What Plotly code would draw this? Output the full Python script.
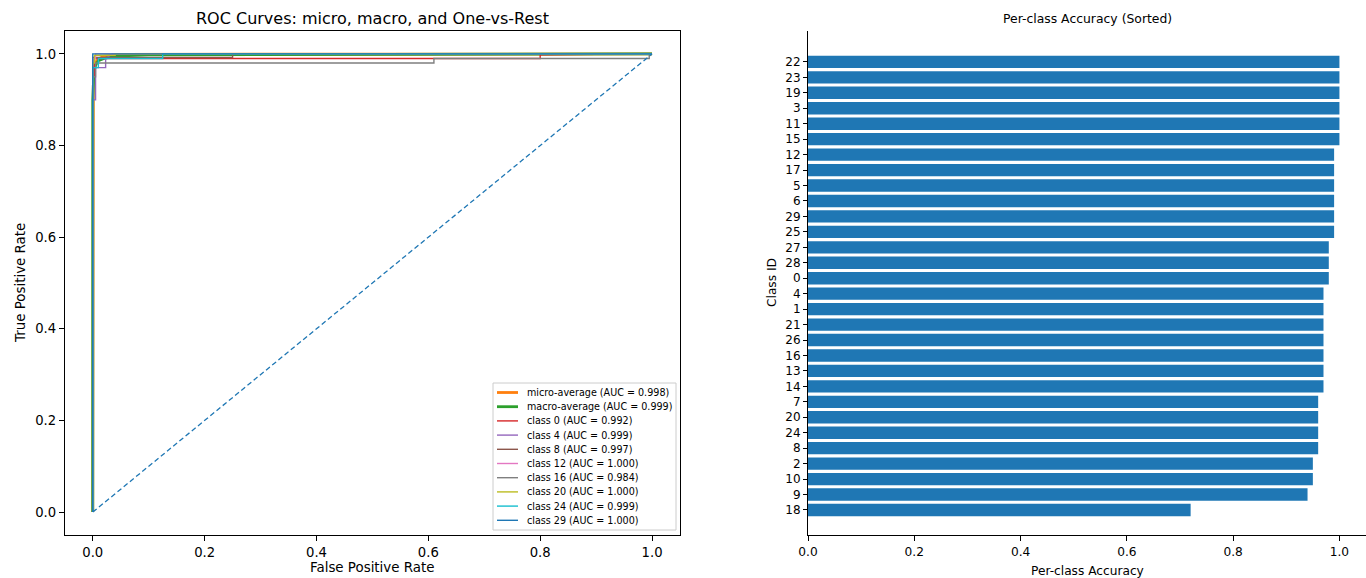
import plotly.graph_objects as go

# ---------------- ROC data ----------------
fpr_micro = [0, 0, 0.001, 0.002, 0.004, 0.007, 0.012, 0.02, 0.05, 1.0]
tpr_micro = [0, 0.77, 0.93, 0.96, 0.975, 0.985, 0.99, 0.995, 0.999, 1.0]

fpr_macro = [0, 0, 0.002, 0.005, 0.01, 0.02, 0.04, 0.1, 1.0]
tpr_macro = [0, 0.9, 0.96, 0.975, 0.985, 0.99, 0.995, 0.998, 1.0]

fpr_c0 = [0, 0, 0.003, 0.003, 0.8, 0.8, 1.0]
tpr_c0 = [0, 0.95, 0.95, 0.99, 0.99, 0.998, 1.0]

fpr_c4 = [0, 0, 0.005, 0.005, 0.023, 0.023, 0.035, 1.0]
tpr_c4 = [0, 0.9, 0.9, 0.97, 0.97, 0.99, 1.0, 1.0]

fpr_c8 = [0, 0, 0.25, 0.25, 1.0]
tpr_c8 = [0, 0.992, 0.992, 1.0, 1.0]

fpr_c12 = [0, 0, 0.005, 0.005, 1.0]
tpr_c12 = [0, 0.99, 0.99, 1.0, 1.0]

fpr_c16 = [0, 0, 0.005, 0.005, 0.61, 0.61, 0.995, 0.995, 1.0]
tpr_c16 = [0, 0.95, 0.95, 0.98, 0.98, 0.99, 0.99, 1.0, 1.0]

fpr_c20 = [0, 0, 0.003, 0.003, 0.04, 0.04, 1.0]
tpr_c20 = [0, 0.98, 0.98, 0.997, 0.997, 1.0, 1.0]

fpr_c24 = [0, 0, 0.01, 0.01, 0.125, 0.125, 1.0]
tpr_c24 = [0, 0.97, 0.97, 0.99, 0.99, 1.0, 1.0]

fpr_c29 = [0, 0, 1.0]
tpr_c29 = [0, 1.0, 1.0]

diag = [0, 1]

roc_names = ["micro-average (AUC = 0.998)", "macro-average (AUC = 0.999)",
             "class 0 (AUC = 0.992)", "class 4 (AUC = 0.999)", "class 8 (AUC = 0.997)",
             "class 12 (AUC = 1.000)", "class 16 (AUC = 0.984)", "class 20 (AUC = 1.000)",
             "class 24 (AUC = 0.999)", "class 29 (AUC = 1.000)"]
roc_fpr = [fpr_micro, fpr_macro, fpr_c0, fpr_c4, fpr_c8, fpr_c12, fpr_c16, fpr_c20, fpr_c24, fpr_c29]
roc_tpr = [tpr_micro, tpr_macro, tpr_c0, tpr_c4, tpr_c8, tpr_c12, tpr_c16, tpr_c20, tpr_c24, tpr_c29]
roc_colors = ["#ff7f0e", "#2ca02c", "#d62728", "#9467bd", "#8c564b",
              "#e377c2", "#7f7f7f", "#bcbd22", "#17becf", "#1f77b4"]
roc_widths = [2.8, 2.8] + [1.4] * 8

# ---------------- Accuracy data ----------------
class_ids = ["22", "23", "19", "3", "11", "15", "12", "17", "5", "6", "29", "25",
             "27", "28", "0", "4", "1", "21", "26", "16", "13", "14",
             "7", "20", "24", "8", "2", "10", "9", "18"]
accuracy = [1.0, 1.0, 1.0, 1.0, 1.0, 1.0, 0.99, 0.99, 0.99, 0.99, 0.99, 0.99,
            0.98, 0.98, 0.98, 0.97, 0.97, 0.97, 0.97, 0.97, 0.97, 0.97,
            0.96, 0.96, 0.96, 0.96, 0.95, 0.95, 0.94, 0.72]

W, H = 1366, 578
FONT = "DejaVu Sans"

fig = go.Figure()

for f, t, n, c, w in zip(roc_fpr, roc_tpr, roc_names, roc_colors, roc_widths):
    fig.add_trace(go.Scatter(x=f, y=t, mode="lines", name=n, showlegend=False,
                             line=dict(color=c, width=w),
                             xaxis="x", yaxis="y"))

fig.add_trace(go.Scatter(x=diag, y=diag, mode="lines", showlegend=False,
                         line=dict(color="#1f77b4", width=1.3, dash="5px,3px"),
                         xaxis="x", yaxis="y"))

fig.add_trace(go.Bar(x=accuracy, y=class_ids, orientation="h", width=0.8,
                     marker=dict(color="#1f77b4", line=dict(width=0)),
                     showlegend=False, xaxis="x2", yaxis="y2"))

top, bottom = 31, 535
ydom = [1 - bottom / H, 1 - top / H]
L0, L1 = 64.8, 680
R0, R1 = 808, 1366


def px(xp):
    return xp / W


def py(yp):
    return 1 - yp / H


common = dict(showgrid=False, zeroline=False, showline=True, linecolor="black",
              linewidth=1, ticks="outside", ticklen=5, tickcolor="black",
              automargin=False)

fig.update_layout(
    width=W, height=H,
    margin=dict(l=0, r=0, t=0, b=0, pad=0),
    paper_bgcolor="white", plot_bgcolor="white",
    font=dict(family=FONT, color="black"),
    showlegend=False,
    xaxis=dict(domain=[px(L0), px(L1)], range=[-0.05, 1.05], mirror=True,
               tickvals=[0, 0.2, 0.4, 0.6, 0.8, 1.0], tickformat=".1f",
               tickfont=dict(family=FONT, size=13.2, color="black"),
               anchor="y", **common),
    yaxis=dict(domain=ydom, range=[-0.05, 1.05], mirror=True,
               tickvals=[0, 0.2, 0.4, 0.6, 0.8, 1.0], tickformat=".1f",
               tickfont=dict(family=FONT, size=13.2, color="black"),
               anchor="x", **common),
    xaxis2=dict(domain=[px(R0), px(R1)], range=[0, 1.05], mirror=False,
                tickvals=[0, 0.2, 0.4, 0.6, 0.8, 1.0], tickformat=".1f",
                tickfont=dict(family=FONT, size=12.2, color="black"),
                anchor="y2", **common),
    yaxis2=dict(domain=ydom, type="category", categoryorder="array",
                categoryarray=class_ids, range=[30.62, -2.0], mirror=False,
                tickfont=dict(family=FONT, size=12, color="black"),
                anchor="x2", **{**common, "ticklen": 4}),
)

annotations = [
    dict(text="ROC Curves: micro, macro, and One-vs-Rest", x=px((L0 + L1) / 2), y=py(19),
         font=dict(family=FONT, size=16, color="black")),
    dict(text="Per-class Accuracy (Sorted)", x=px((R0 + R1) / 2), y=py(19),
         font=dict(family=FONT, size=12.4, color="black")),
    dict(text="False Positive Rate", x=px((L0 + L1) / 2), y=py(567),
         font=dict(family=FONT, size=13.4, color="black")),
    dict(text="True Positive Rate", x=px(20), y=py((top + bottom) / 2), textangle=-90,
         font=dict(family=FONT, size=13.4, color="black")),
    dict(text="Per-class Accuracy", x=px((R0 + R1) / 2), y=py(571),
         font=dict(family=FONT, size=12.2, color="black")),
    dict(text="Class ID", x=px(772), y=py((top + bottom) / 2), textangle=-90,
         font=dict(family=FONT, size=12.2, color="black")),
]
for a in annotations:
    a.update(xref="paper", yref="paper", showarrow=False, xanchor="center", yanchor="middle")

# ---- legend (drawn as a box with line keys and labels) ----
LG_X0, LG_X1, LG_Y0, LG_Y1 = 493, 676, 383, 530
row0, row_step = 392.5, 14.2
shapes = [dict(type="rect", xref="paper", yref="paper",
               x0=px(LG_X0), x1=px(LG_X1), y0=py(LG_Y1), y1=py(LG_Y0),
               line=dict(color="#cccccc", width=1), fillcolor="rgba(255,255,255,0.8)",
               layer="above")]
for i, (n, c, w) in enumerate(zip(roc_names, roc_colors, roc_widths)):
    yy = row0 + i * row_step
    shapes.append(dict(type="line", xref="paper", yref="paper",
                       x0=px(497), x1=px(518), y0=py(yy), y1=py(yy),
                       line=dict(color=c, width=w), layer="above"))
    annotations.append(dict(text=n, x=px(525), y=py(yy), xref="paper", yref="paper",
                            showarrow=False, xanchor="left", yanchor="middle",
                            font=dict(family=FONT, size=9.6, color="black")))

fig.update_layout(annotations=annotations, shapes=shapes)

fig.write_html("out.html",
               config={"displayModeBar": False},
               post_script="document.body.style.margin='0';document.body.style.overflow='hidden';")
